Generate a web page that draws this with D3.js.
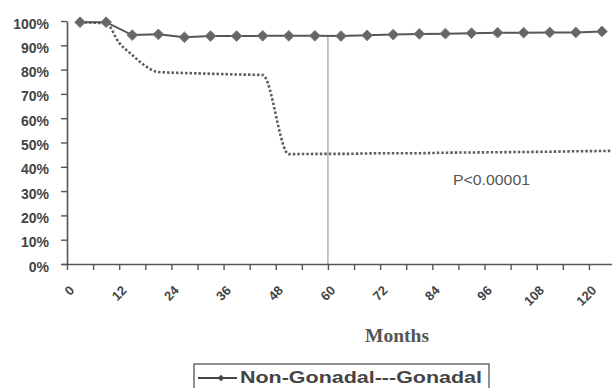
<!DOCTYPE html>
<html>
<head>
<meta charset="utf-8">
<script src="https://cdn.jsdelivr.net/npm/d3@7"></script>
<style>
  html, body { margin: 0; padding: 0; background: #fff; }
  svg { display: block; }
</style>
</head>
<body>
<svg id="chart" width="612" height="388"></svg>
<script>
'use strict';

// values (survival, fraction)
const months = [3, 9, 15, 21, 27, 33, 39, 45, 51, 57, 63, 69, 75, 81, 87, 93, 99, 105, 111, 117, 123];
const nonGonadal = [0.995, 0.995, 0.942, 0.945, 0.933, 0.938, 0.938, 0.939, 0.939, 0.939, 0.938,
  0.941, 0.944, 0.947, 0.948, 0.95, 0.952, 0.952, 0.953, 0.953, 0.957];

const gonadalMonths = [3, 9, 12, 15, 18, 21, 27, 33, 39, 45, 51, 57, 63, 69, 75, 81, 87, 93, 99, 105, 111, 117, 123, 126];
const gonadal = [0.995, 0.99, 0.91, 0.86, 0.815, 0.79, 0.786, 0.783, 0.78, 0.778, 0.452, 0.453, 0.453,
  0.455, 0.456, 0.456, 0.458, 0.459, 0.46, 0.461, 0.462, 0.464, 0.465, 0.466];

const yTicks = [0, 0.1, 0.2, 0.3, 0.4, 0.5, 0.6, 0.7, 0.8, 0.9, 1];
const xTicks = [0, 6, 12, 18, 24, 30, 36, 42, 48, 54, 60, 66, 72, 78, 84, 90, 96, 102, 108, 114, 120, 126];
const xLabels = [0, 12, 24, 36, 48, 60, 72, 84, 96, 108, 120];

const markMonth = 60;
const pText = 'P<0.00001';
const legendText = 'Non-Gonadal---Gonadal';

const svg = d3.select('#chart');
const axisColor = '#555';

const x = d3.scaleLinear().domain([0, 126]).range([67, 615]);
const y = d3.scaleLinear().domain([0, 1]).range([264, 21]);

// y axis
const yAxis = svg
  .append('g')
  .attr('transform', `translate(${x(0)},0)`)
  .call(
    d3.axisLeft(y)
      .tickValues(yTicks)
      .tickFormat(d3.format('.0%'))
      .tickSize(6)
      .tickSizeOuter(0)
      .tickPadding(12)
  );
yAxis.select('.domain').attr('stroke', axisColor).attr('stroke-width', 1.6);
yAxis.selectAll('.tick line').attr('stroke', axisColor).attr('stroke-width', 1.4);
yAxis
  .selectAll('.tick text')
  .attr('fill', '#444')
  .attr('font-family', 'Arial, "Liberation Sans", sans-serif')
  .attr('font-weight', 'bold')
  .attr('font-size', 14)
  .attr('dy', '0.5em');

// x axis
const xAxis = svg
  .append('g')
  .attr('transform', `translate(0,${y(0)})`)
  .call(d3.axisBottom(x).tickValues(xTicks).tickFormat('').tickSize(6).tickSizeOuter(0));
xAxis.select('.domain').attr('stroke', axisColor).attr('stroke-width', 1.6).attr('d', `M62,0.5H612`);
xAxis.selectAll('.tick line').attr('stroke', axisColor).attr('stroke-width', 1.4);

svg
  .append('g')
  .selectAll('text')
  .data(xLabels)
  .join('text')
  .attr('transform', (d) => `translate(${x(d) + 5},${y(0) + 24}) rotate(-45)`)
  .attr('text-anchor', 'end')
  .attr('dy', '0.35em')
  .attr('fill', '#444')
  .attr('font-family', 'Arial, "Liberation Sans", sans-serif')
  .attr('font-weight', 'bold')
  .attr('font-size', 13)
  .text((d) => d);

// vertical marker at 60 months
const ngAt60 = nonGonadal[months.indexOf(57)];
svg
  .append('line')
  .attr('x1', x(markMonth))
  .attr('x2', x(markMonth))
  .attr('y1', y(0))
  .attr('y2', y(ngAt60))
  .attr('stroke', '#888')
  .attr('stroke-width', 1);

// gonadal (dotted)
const gLine = d3
  .line()
  .x((d, i) => x(gonadalMonths[i]))
  .y((d) => y(d))
  .curve(d3.curveMonotoneX);
svg
  .append('path')
  .attr('d', gLine(gonadal))
  .attr('fill', 'none')
  .attr('stroke', '#5f5f5f')
  .attr('stroke-width', 2.6)
  .attr('stroke-dasharray', '2.5,2');

// non-gonadal (solid + diamonds)
const ngLine = d3
  .line()
  .x((d, i) => x(months[i]))
  .y((d) => y(d));
svg
  .append('path')
  .attr('d', ngLine(nonGonadal))
  .attr('fill', 'none')
  .attr('stroke', '#555')
  .attr('stroke-width', 2);

const diamond = d3.symbol(d3.symbolSquare, 58);
svg
  .append('g')
  .selectAll('path')
  .data(nonGonadal)
  .join('path')
  .attr('d', diamond)
  .attr('transform', (d, i) => `translate(${x(months[i])},${y(d)}) rotate(45)`)
  .attr('fill', '#666')
  .attr('stroke', '#777')
  .attr('stroke-width', 0.8);

// p value
svg
  .append('text')
  .attr('x', 453)
  .attr('y', 185)
  .attr('fill', '#555')
  .attr('font-family', 'Arial, "Liberation Sans", sans-serif')
  .attr('font-size', 15)
  .attr('textLength', 77)
  .attr('lengthAdjust', 'spacingAndGlyphs')
  .text(pText);

// axis title
svg
  .append('text')
  .attr('x', 397)
  .attr('y', 342)
  .attr('text-anchor', 'middle')
  .attr('fill', '#555')
  .attr('font-family', '"Times New Roman", "Liberation Serif", serif')
  .attr('font-weight', 'bold')
  .attr('font-size', 19)
  .attr('textLength', 64)
  .attr('lengthAdjust', 'spacingAndGlyphs')
  .text('Months');

// legend
const legend = svg.append('g');
legend
  .append('rect')
  .attr('x', 194)
  .attr('y', 364)
  .attr('width', 295)
  .attr('height', 40)
  .attr('fill', 'none')
  .attr('stroke', '#555')
  .attr('stroke-width', 1.3);
legend
  .append('line')
  .attr('x1', 198)
  .attr('x2', 237)
  .attr('y1', 378)
  .attr('y2', 378)
  .attr('stroke', '#444')
  .attr('stroke-width', 1.8);
legend
  .append('path')
  .attr('d', d3.symbol(d3.symbolSquare, 22))
  .attr('transform', 'translate(221,378) rotate(45)')
  .attr('fill', '#444');
legend
  .append('text')
  .attr('x', 240)
  .attr('y', 383)
  .attr('fill', '#444')
  .attr('font-family', 'Arial, "Liberation Sans", sans-serif')
  .attr('font-weight', 'bold')
  .attr('font-size', 17)
  .attr('textLength', 242)
  .attr('lengthAdjust', 'spacingAndGlyphs')
  .text(legendText);
</script>
</body>
</html>
